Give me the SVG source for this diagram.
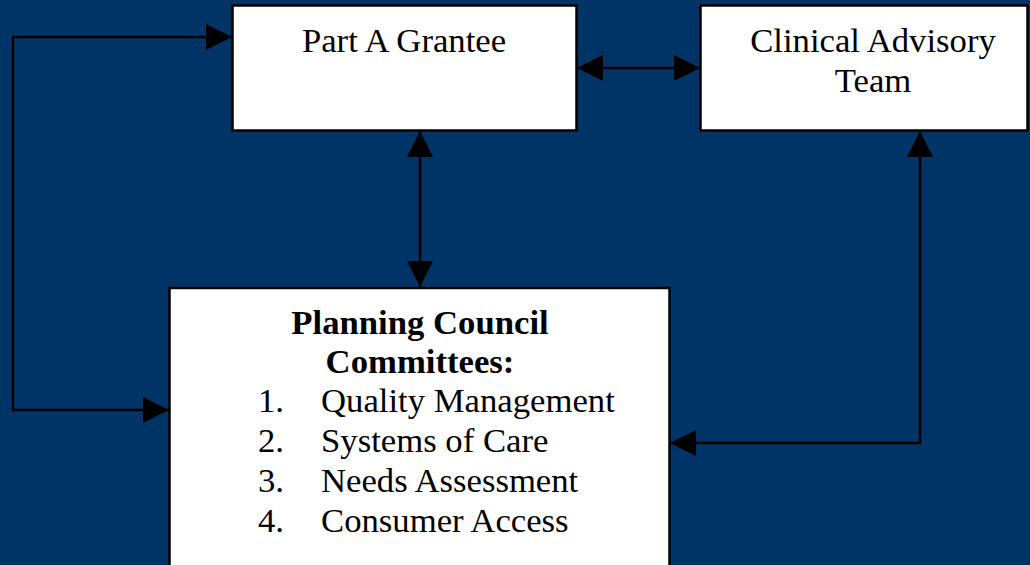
<svg xmlns="http://www.w3.org/2000/svg" width="1030" height="565" viewBox="0 0 1030 565">
  <style>
    .box { fill: #ffffff; stroke: #000000; stroke-width: 2.5; }
    .lbl { font-family: "Liberation Serif", "Times New Roman", serif; font-size: 34.7px; fill: #000000; }
    .bold { font-weight: bold; }
    .wire { fill: none; stroke: #000000; stroke-width: 2.5; }
  </style>
  <defs>
    <marker id="head" viewBox="0 0 26 26" refX="26" refY="13" markerWidth="26" markerHeight="26" markerUnits="userSpaceOnUse" orient="auto-start-reverse">
      <path d="M0,0 L26,13 L0,26 Z" fill="#000000"/>
    </marker>
  </defs>
  <rect width="1030" height="565" fill="#003366"/>

  <g id="connectors">
    <!-- Part A Grantee <-> Clinical Advisory Team -->
    <path class="wire" d="M577,68 H700" marker-start="url(#head)" marker-end="url(#head)"/>
    <!-- Part A Grantee <-> Planning Council -->
    <path class="wire" d="M420,131 V287" marker-start="url(#head)" marker-end="url(#head)"/>
    <!-- Planning Council -> Part A Grantee (left loop) -->
    <path class="wire" d="M169,410 H13 V37 H232" marker-start="url(#head)" marker-end="url(#head)"/>
    <!-- Clinical Advisory Team <-> Planning Council (right loop) -->
    <path class="wire" d="M920,131 V443 H670" marker-start="url(#head)" marker-end="url(#head)"/>
  </g>

  <g id="part-a-grantee">
    <rect class="box" x="232.5" y="5.5" width="344" height="125"/>
    <text class="lbl" x="404" y="52" text-anchor="middle">Part A Grantee</text>
  </g>

  <g id="clinical-advisory-team">
    <rect class="box" x="700.5" y="5.5" width="327" height="125"/>
    <text class="lbl" x="873" y="52" text-anchor="middle">Clinical Advisory</text>
    <text class="lbl" x="873" y="92" text-anchor="middle">Team</text>
  </g>

  <g id="planning-council">
    <rect class="box" x="169.5" y="288" width="500" height="290"/>
    <text class="lbl bold" x="420" y="334" text-anchor="middle">Planning Council</text>
    <text class="lbl bold" x="420" y="373" text-anchor="middle">Committees:</text>
    <text class="lbl" x="258" y="412">1.</text>
    <text class="lbl" x="321" y="412">Quality Management</text>
    <text class="lbl" x="258" y="452">2.</text>
    <text class="lbl" x="321" y="452">Systems of Care</text>
    <text class="lbl" x="258" y="492">3.</text>
    <text class="lbl" x="321" y="492">Needs Assessment</text>
    <text class="lbl" x="258" y="532">4.</text>
    <text class="lbl" x="321" y="532">Consumer Access</text>
  </g>
</svg>
